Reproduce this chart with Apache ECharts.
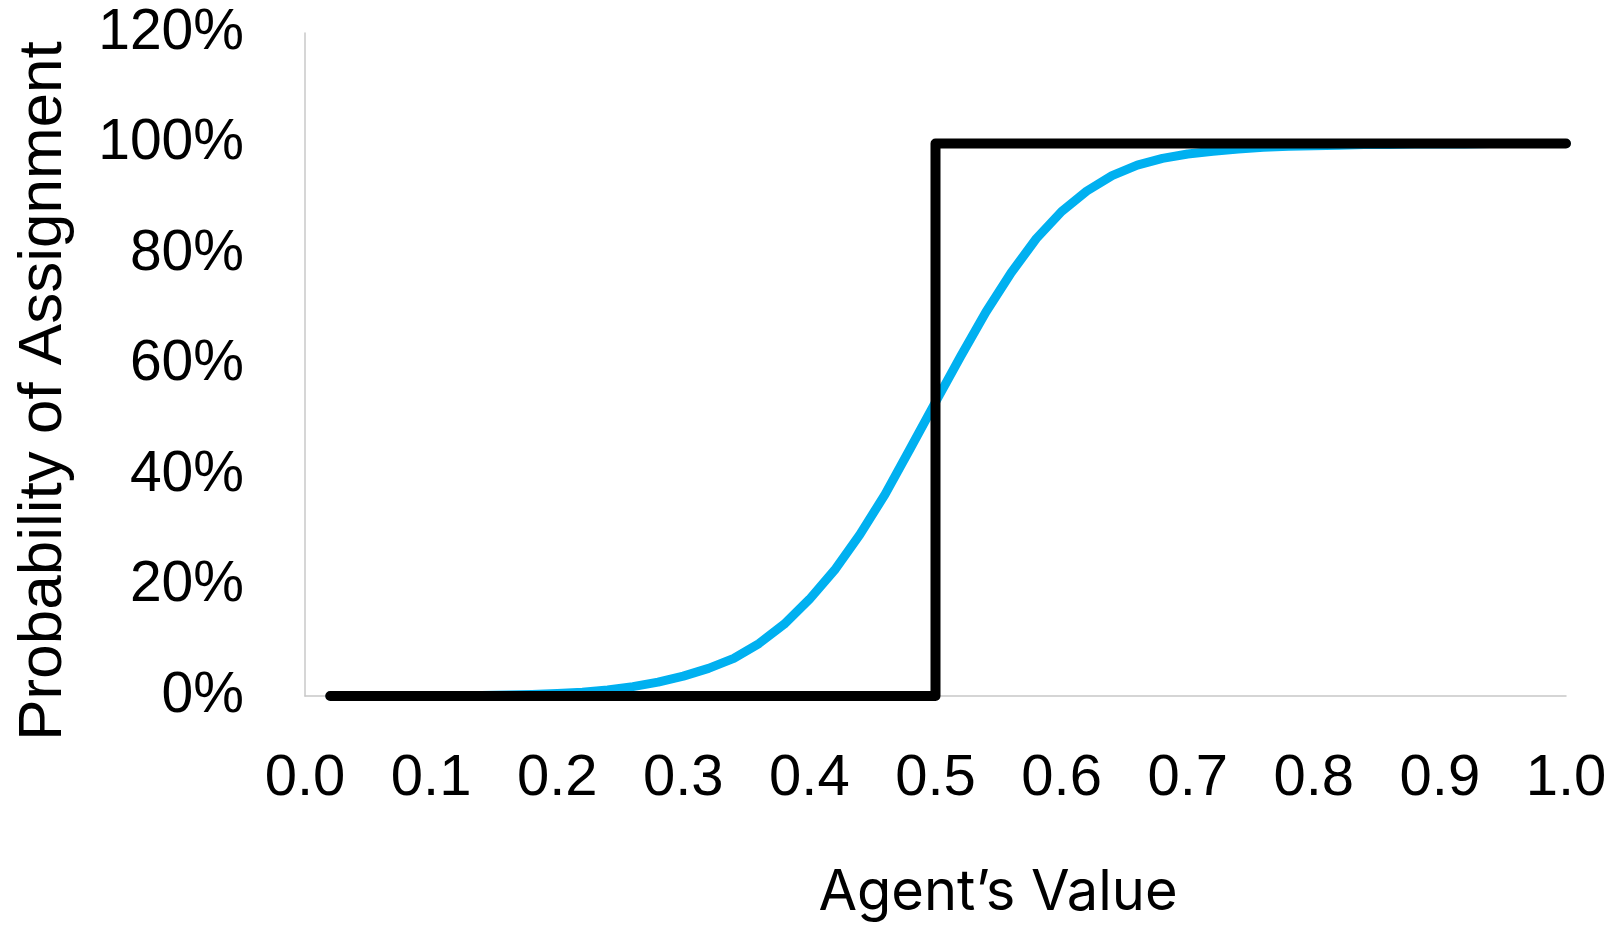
<!DOCTYPE html>
<html>
<head>
    <meta charset="utf-8"/>
    <script src="https://cdn.jsdelivr.net/npm/echarts@6/dist/echarts.min.js"></script>
    <style>
        html, body { margin: 0; padding: 0; background: #fff; }
    </style>
</head>
<body>
<div id="main" style="width: 1619px;height:927px;"></div>
<script type="text/javascript">
    // agent's value (x) for the smooth curve
    var agentValues = [0.02, 0.04, 0.06, 0.08, 0.10, 0.12, 0.14, 0.16, 0.18, 0.20,
        0.22, 0.24, 0.26, 0.28, 0.30, 0.32, 0.34, 0.36, 0.38, 0.40,
        0.42, 0.44, 0.46, 0.48, 0.50, 0.52, 0.54, 0.56, 0.58, 0.60,
        0.62, 0.64, 0.66, 0.68, 0.70, 0.72, 0.74, 0.76, 0.78, 0.80,
        0.82, 0.84, 0.86, 0.88, 0.90, 0.92, 0.94, 0.96, 0.98, 1.00];
    // probability of assignment, blue curve
    var curveProb = [0, 0, 0, 0.0001, 0.0002, 0.0005, 0.001, 0.0017, 0.0028, 0.0045,
        0.007, 0.011, 0.017, 0.025, 0.036, 0.050, 0.068, 0.095, 0.130, 0.175,
        0.228, 0.292, 0.365, 0.448, 0.532, 0.615, 0.695, 0.766, 0.828, 0.877,
        0.914, 0.942, 0.961, 0.973, 0.981, 0.986, 0.990, 0.993, 0.995, 0.996,
        0.997, 0.998, 0.998, 0.999, 0.999, 0.999, 1, 1, 1, 1];
    // black step (threshold at 0.5)
    var stepX = [0.02, 0.5, 0.5, 1.0];
    var stepY = [0, 0, 1, 1];

    var xTitle = 'Agent’s Value';
    var yTitle = 'Probability of Assignment';

    var curveData = agentValues.map(function (x, i) { return [x, curveProb[i]]; });
    var stepData = stepX.map(function (x, i) { return [x, stepY[i]]; });

    var myChart = echarts.init(document.getElementById('main'));

    var option = {
        animation: false,
        backgroundColor: '#ffffff',
        grid: {
            left: 305,
            right: 53,
            top: 33,
            bottom: 231
        },
        title: {
            text: xTitle,
            left: 993,
            top: 860,
            textAlign: 'center',
            textStyle: {
                fontFamily: 'Inter',
                fontWeight: 'normal',
                fontSize: 56,
                color: '#000'
            }
        },
        graphic: [{
            type: 'text',
            x: 44,
            y: 391,
            rotation: Math.PI / 2,
            style: {
                text: yTitle,
                fontFamily: 'Liberation Sans',
                fontSize: 62,
                fill: '#000',
                textAlign: 'center',
                textVerticalAlign: 'middle'
            }
        }],
        xAxis: {
            type: 'value',
            min: 0,
            max: 1,
            interval: 0.1,
            axisLine: { show: true, lineStyle: { color: '#c8c8c8', width: 1.5 } },
            axisTick: { show: false },
            splitLine: { show: false },
            axisLabel: {
                margin: 54,
                color: '#000',
                fontFamily: 'Liberation Sans',
                fontSize: 58,
                formatter: function (v) { return v.toFixed(1); }
            }
        },
        yAxis: {
            type: 'value',
            min: 0,
            max: 1.2,
            interval: 0.2,
            axisLine: { show: true, lineStyle: { color: '#c8c8c8', width: 1.5 } },
            axisTick: { show: false },
            splitLine: { show: false },
            axisLabel: {
                margin: 61,
                color: '#000',
                fontFamily: 'Liberation Sans',
                fontSize: 57,
                formatter: function (v) { return Math.round(v * 100) + '%'; }
            }
        },
        series: [{
            type: 'line',
            data: curveData,
            showSymbol: false,
            z: 2,
            lineStyle: { color: '#00B0F0', width: 9, cap: 'round', join: 'round' }
        }, {
            type: 'line',
            data: stepData,
            showSymbol: false,
            z: 3,
            lineStyle: { color: '#000000', width: 10, cap: 'round', join: 'round' }
        }]
    };

    myChart.setOption(option);
</script>
</body>
</html>
